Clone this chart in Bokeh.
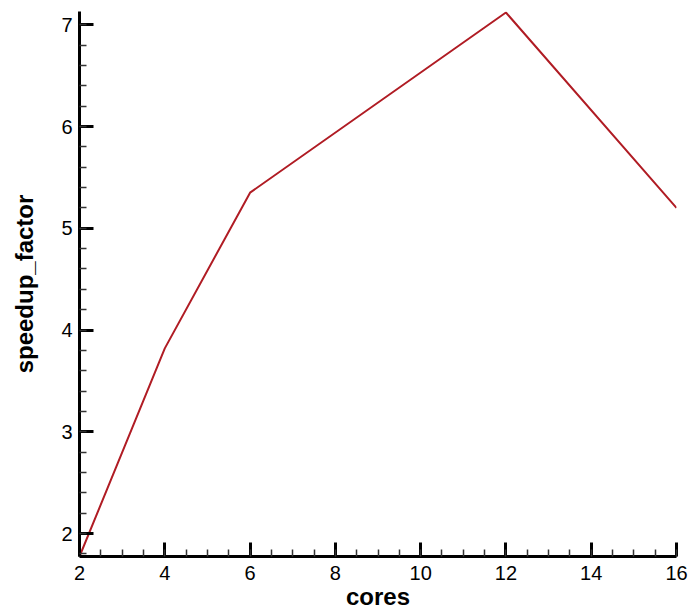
from bokeh.plotting import figure
from bokeh.models import Range1d, SingleIntervalTicker
from bokeh.embed import file_html
from bokeh.resources import INLINE

cores = [2, 4, 6, 12, 16]
speedup_factor = [1.775, 3.82, 5.35, 7.12, 5.2]

p = figure(width=694, height=615, output_backend="svg", toolbar_location=None,
           x_range=Range1d(2, 16), y_range=Range1d(1.775, 7.13),
           min_border_left=79, min_border_right=18, min_border_top=11, min_border_bottom=59)
p.outline_line_color = None
p.xgrid.visible = False
p.ygrid.visible = False
p.background_fill_color = "white"

p.line(cores, speedup_factor, line_color="#b01c24", line_width=2)

p.xaxis.ticker = SingleIntervalTicker(interval=2, num_minor_ticks=4)
p.yaxis.ticker = SingleIntervalTicker(interval=1, num_minor_ticks=5)
p.xaxis.axis_label = "cores"
p.yaxis.axis_label = "speedup_factor"

for ax in (p.xaxis, p.yaxis):
    ax.axis_line_width = 3
    ax.axis_line_color = "black"
    ax.major_tick_in = 14
    ax.major_tick_out = 0
    ax.minor_tick_in = 7
    ax.minor_tick_out = 0
    ax.major_tick_line_width = 3
    ax.minor_tick_line_width = 1.5
    ax.minor_tick_line_color = "#333333"
    ax.major_label_text_font = "Liberation Sans"
    ax.major_label_text_font_size = "20px"
    ax.major_label_text_color = "black"
    ax.axis_label_text_font = "Liberation Sans"
    ax.axis_label_text_font_style = "bold"
    ax.axis_label_text_font_size = "24px"
    ax.axis_label_text_color = "black"

p.xaxis.major_label_standoff = 9
p.xaxis.axis_label_standoff = 0
p.yaxis.major_label_standoff = 7
p.yaxis.axis_label_standoff = 20

open("out.html", "w").write(file_html(p, INLINE))
